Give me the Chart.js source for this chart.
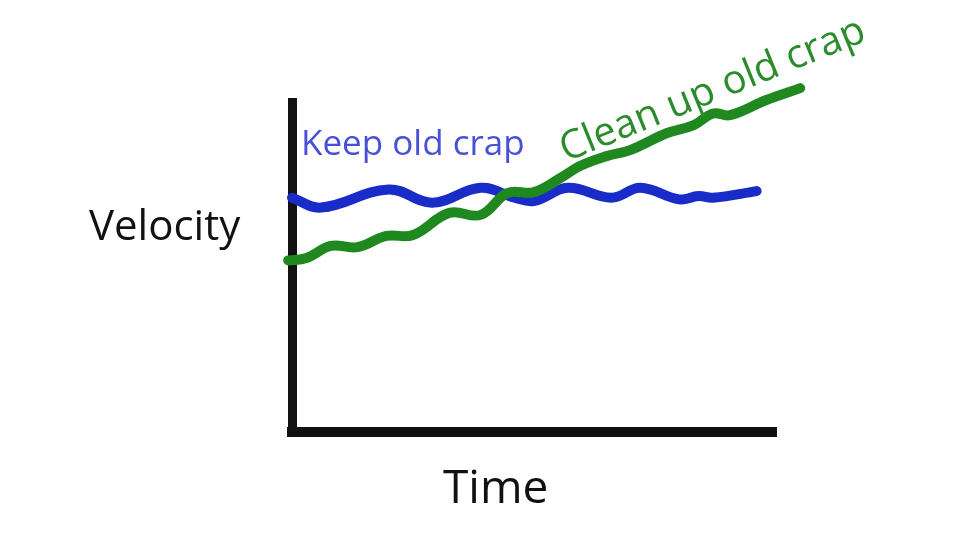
<!DOCTYPE html>
<html>
<head>
<meta charset="utf-8">
<script src="https://cdn.jsdelivr.net/npm/chart.js@4.4.1/dist/chart.umd.min.js"></script>
<style>
  html, body { margin: 0; padding: 0; background: #fff; }
</style>
</head>
<body>
<canvas id="sketchChart" width="960" height="540"></canvas>
<script>
// values (time 0..10 along the x axis, velocity 0..10 up the y axis)
const keepTime = [0, 0.6, 2.0, 2.9, 3.9, 4.6, 5.0, 5.7, 6.6, 7.2, 8.0, 8.4, 8.7, 9.6];
const keepVelocity = [7.1, 6.8, 7.35, 6.95, 7.4, 7.1, 7.0, 7.4, 7.1, 7.4, 7.05, 7.15, 7.1, 7.3];

const cleanTime = [-0.08, 0.3, 0.8, 1.35, 1.95, 2.5, 3.25, 3.9, 4.45, 5.0, 5.55, 5.95, 6.5, 7.0, 7.75, 8.3, 8.7, 9.05, 9.8, 10.5];
const cleanVelocity = [5.2, 5.27, 5.64, 5.6, 5.94, 5.97, 6.64, 6.58, 7.24, 7.27, 7.7, 8.06, 8.36, 8.55, 9.06, 9.3, 9.65, 9.6, 10.06, 10.42];

const seriesNames = ['Keep old crap', 'Clean up old crap'];
const xAxisLabel = 'Time';
const yAxisLabel = 'Velocity';

const toPoints = (xs, ys) => xs.map((x, i) => ({x: x, y: ys[i]}));

// hand written labels, drawn on top of the chart
const sketchLabels = {
    id: 'sketchLabels',
    afterDraw(chart) {
        const ctx = chart.ctx;
        ctx.save();
        ctx.textBaseline = 'alphabetic';

        ctx.fillStyle = '#111';
        ctx.font = '42px "Open Sans"';
        ctx.fillText(yAxisLabel, 89, 240);
        ctx.font = '46px "Open Sans"';
        ctx.fillText(xAxisLabel, 443, 503);

        ctx.fillStyle = '#4750d8';
        ctx.font = '35px "Open Sans"';
        ctx.fillText(seriesNames[0], 301, 155);

        ctx.fillStyle = '#2a8c2a';
        ctx.font = '40px "Open Sans"';
        ctx.translate(566, 162);
        ctx.rotate(-22 * Math.PI / 180);
        ctx.fillText(seriesNames[1], 0, 0);
        ctx.restore();
    }
};

const ctx = document.getElementById('sketchChart').getContext('2d');
new Chart(ctx, {
    type: 'line',
    data: {
        datasets: [{
            label: seriesNames[0],
            data: toPoints(keepTime, keepVelocity),
            borderColor: '#1a2cc8',
            borderWidth: 10,
            order: 1
        }, {
            label: seriesNames[1],
            data: toPoints(cleanTime, cleanVelocity),
            borderColor: '#1f881f',
            borderWidth: 10,
            order: 0
        }]
    },
    options: {
        responsive: false,
        animation: false,
        layout: {padding: {left: 292, top: 102, right: 184, bottom: 108}},
        elements: {
            point: {radius: 0},
            line: {tension: 0.4, borderCapStyle: 'round', borderJoinStyle: 'round', fill: false}
        },
        datasets: {line: {clip: false}},
        plugins: {
            legend: {display: false},
            tooltip: {enabled: false}
        },
        scales: {
            x: {
                type: 'linear', min: 0, max: 10,
                ticks: {display: false},
                grid: {display: false, drawTicks: false},
                border: {display: true, color: '#111', width: 10}
            },
            y: {
                type: 'linear', min: 0, max: 10,
                ticks: {display: false},
                grid: {display: false, drawTicks: false},
                border: {display: true, color: '#111', width: 9}
            }
        }
    },
    plugins: [sketchLabels]
});
</script>
</body>
</html>
